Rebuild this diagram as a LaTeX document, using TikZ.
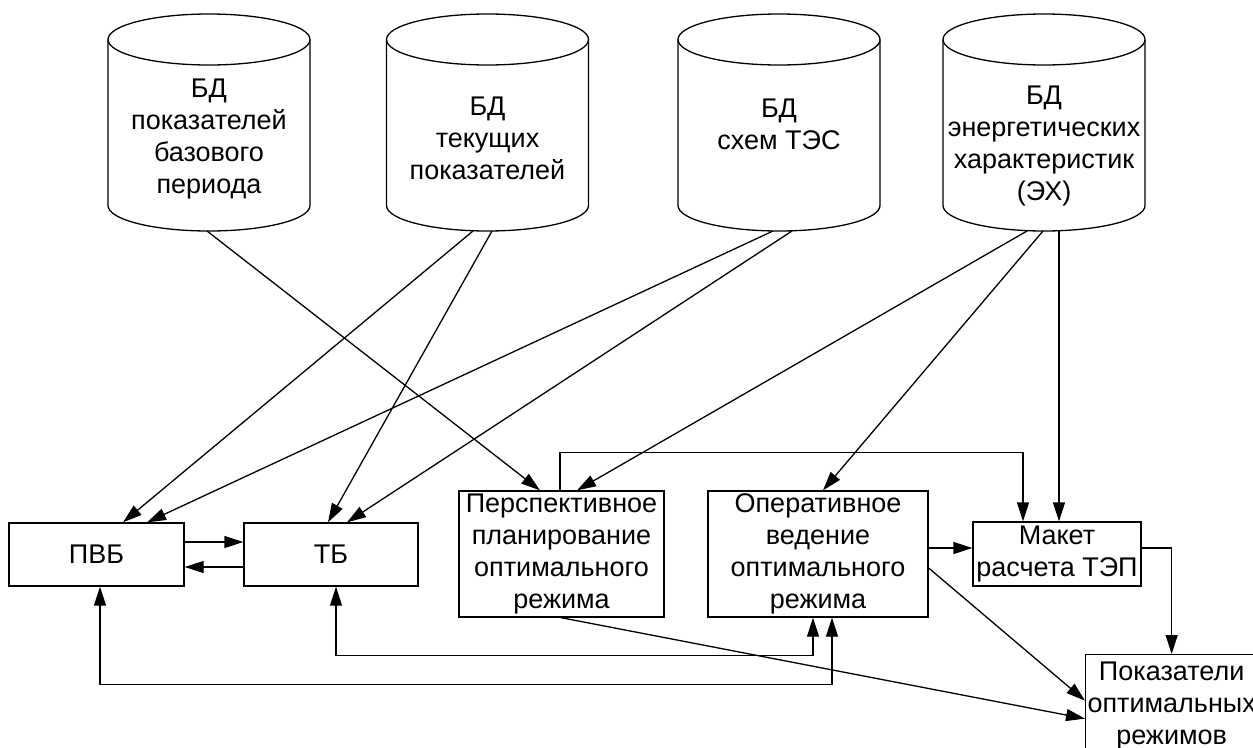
\documentclass[tikz,border=0pt]{standalone}
\usepackage{fontspec}
\setmainfont{Liberation Sans}
\usetikzlibrary{arrows.meta}
\tikzset{
  dbshape/.style={draw=black, line width=1.3pt},
  dblabel/.style={align=center, inner sep=0pt, font=\fontsize{27}{32}\selectfont},
  block/.style={draw=black, line width=1.3pt, fill=white, align=center, inner sep=0pt, font=\fontsize{27}{32}\selectfont},
  arrow/.style={-{Triangle[length=19pt, width=12pt]}, line width=1.3pt},
  bothways/.style={{Triangle[length=19pt, width=12pt]}-{Triangle[length=19pt, width=12pt]}, line width=1.3pt}
}

\begin{document}
\begin{tikzpicture}[x=1pt, y=-1pt]
  \useasboundingbox (0,0) rectangle (1253,747);
  \clip (0,0) rectangle (1253,747);
  % databases
  \draw[dbshape] (108,39.5) -- (108,205.5) arc (180:0:101 and 25.5) -- (310,39.5);
  \draw[dbshape] (209,39.5) ellipse (101 and 25.5);
  \draw[dbshape] (386.5,39.5) -- (386.5,205.5) arc (180:0:101 and 25.5) -- (588.5,39.5);
  \draw[dbshape] (487.5,39.5) ellipse (101 and 25.5);
  \draw[dbshape] (678,39.5) -- (678,205.5) arc (180:0:101 and 25.5) -- (880,39.5);
  \draw[dbshape] (779,39.5) ellipse (101 and 25.5);
  \draw[dbshape] (943,39.5) -- (943,205.5) arc (180:0:101 and 25.5) -- (1145,39.5);
  \draw[dbshape] (1044,39.5) ellipse (101 and 25.5);
  \node[dblabel] (bd1) at (209,139) {БД\\показателей\\базового\\периода};
  \node[dblabel] (bd2) at (487.5,138) {БД\\текущих\\показателей};
  \node[dblabel] (bd3) at (779,124) {БД\\схем ТЭС};
  \node[dblabel] (bd4) at (1044,146) {БД\\энергетических\\характеристик\\(ЭХ)};
  \coordinate (bd1-s) at (209,231); \coordinate (bd2-s) at (487.5,231);
  \coordinate (bd3-s) at (779,231); \coordinate (bd4-s) at (1044,231);

  % blocks
  \node[block, minimum width=175pt, minimum height=63pt] (pvb) at (96.5,554.5) {ПВБ};
  \node[block, minimum width=174pt, minimum height=63pt] (tb) at (331,554.5) {ТБ};
  \node[block, minimum width=205pt, minimum height=126pt] (persp) at (561.5,554) {Перспективное\\планирование\\оптимального\\режима};
  \node[block, minimum width=220pt, minimum height=126pt] (oper) at (818,554) {Оперативное\\ведение\\оптимального\\режима};
  \node[block, minimum width=168pt, minimum height=64pt] (maket) at (1057,554) {Макет\\расчета ТЭП};
  \node[block, anchor=north west, minimum width=172pt, minimum height=102pt] (pokaz) at (1085,654) {Показатели\\оптимальных\\режимов};

  % from the databases
  \draw[arrow] ([xshift=-2pt]bd1-s) -- ([xshift=-21.5pt]persp.north);
  \draw[arrow] ([xshift=-14.5pt]bd2-s) -- ([xshift=26.5pt]pvb.north);
  \draw[arrow] ([xshift=4.5pt]bd2-s) -- ([xshift=-3pt]tb.north);
  \draw[arrow] ([xshift=-6pt]bd3-s) -- ([xshift=50.5pt]pvb.north);
  \draw[arrow] ([xshift=13pt]bd3-s) -- ([xshift=16pt]tb.north);
  \draw[arrow] ([xshift=-17pt]bd4-s) -- ([xshift=15.5pt]persp.north);
  \draw[arrow] ([xshift=-1pt]bd4-s) -- ([xshift=5pt]oper.north);
  \draw[arrow] ([xshift=15pt]bd4-s) -- ([xshift=2pt]maket.north);

  % between the blocks
  \draw[arrow] ([yshift=12.5pt]pvb.east) -- ([yshift=12.5pt]tb.west);
  \draw[arrow] ([yshift=-12.5pt]tb.west) -- ([yshift=-12.5pt]pvb.east);
  \draw[arrow] ([xshift=-1.5pt]persp.north) -- ++(0,-38) -| ([xshift=-34pt]maket.north);
  \draw[arrow] ([yshift=6pt]oper.east) -- ([yshift=6pt]maket.west);
  \draw[arrow] ([yshift=6pt]maket.east) -| (pokaz.north);
  \draw[arrow] ([yshift=-14pt]oper.east) -- ([yshift=5pt]pokaz.west);
  \draw[arrow] ([xshift=-0.5pt]persp.south) -- ([yshift=-13pt]pokaz.west);
  \draw[bothways] ([xshift=-5pt]oper.south) -- ++(0,38) -| ([xshift=5pt]tb.south);
  \draw[bothways] ([xshift=14pt]oper.south) -- ++(0,67) -| ([xshift=3.5pt]pvb.south);
\end{tikzpicture}
\end{document}
